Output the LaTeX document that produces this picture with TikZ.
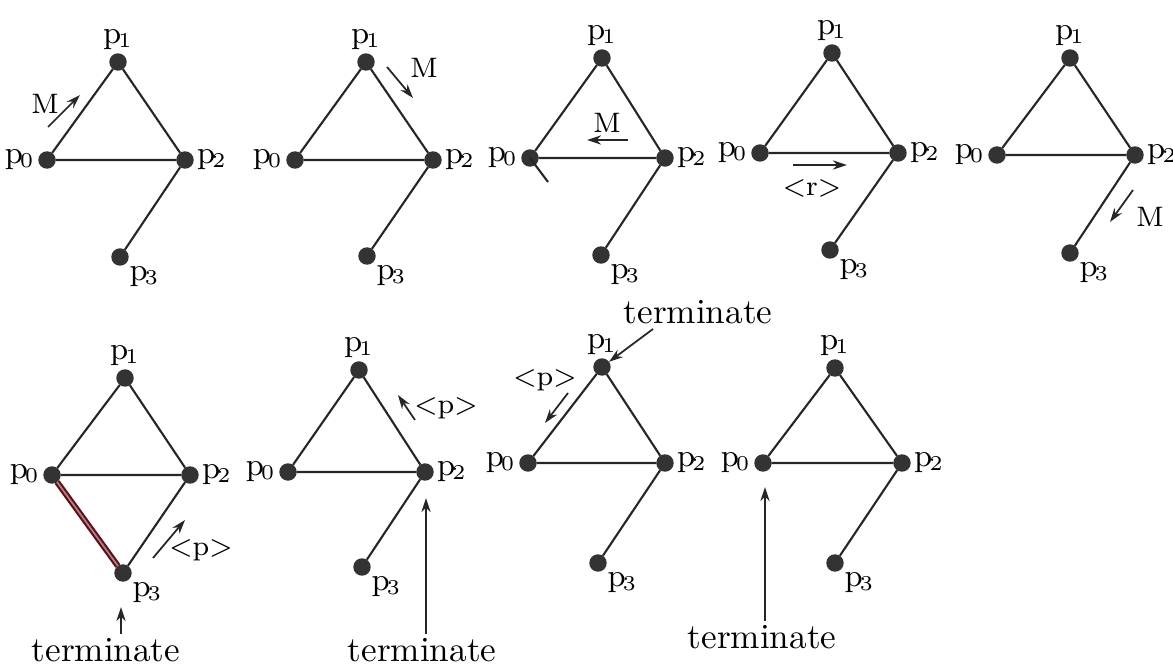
\documentclass[tikz,border=0pt]{standalone}
\usetikzlibrary{arrows.meta}
\newcommand{\pname}[1]{p\kern-0.8pt$_{#1}$}
\begin{document}
\begin{tikzpicture}[x=0.01cm,y=-0.01cm,
    site/.style={circle, fill=black!80, draw=black!80, inner sep=0pt, minimum size=0.16cm},
    link/.style={draw=black!85, line width=0.6pt},
    msg/.style={draw=black!85, line width=0.5pt, -{Stealth[length=4pt,width=2.6pt]}},
    plabel/.style={font=\small, inner sep=0.8pt},
    tag/.style={font=\footnotesize, inner sep=1pt},
    note/.style={font=\normalsize, inner sep=1pt}]
            % Define the colors
            \definecolor{trailcolor}{RGB}{90, 15, 25}

            % Fix the page size
            \useasboundingbox (0,0) rectangle (1173,664);

            % Panel 1
            \node[site, label={[plabel]above:\pname{1}}] (a1) at (118,62) {};
            \node[site, label={[plabel]left:\pname{0}}] (a0) at (47,160) {};
            \node[site, label={[plabel]right:\pname{2}}] (a2) at (185,160) {};
            \node[site, label={[plabel]below right:\pname{3}}] (a3) at (120,257) {};
            \draw[link] (a0) -- (a1) -- (a2) -- (a0);
            \draw[link] (a2) -- (a3);
            \coordinate (am1) at (48,127);
            \coordinate (am2) at (80,95);
            \draw[msg] (am1) -- (am2);
            \node[tag] (aM) at (45,104) {M};

            % Panel 2
            \node[site, label={[plabel]above:\pname{1}}] (b1) at (366,62) {};
            \node[site, label={[plabel]left:\pname{0}}] (b0) at (295,160) {};
            \node[site, label={[plabel]right:\pname{2}}] (b2) at (433,160) {};
            \node[site, label={[plabel]below right:\pname{3}}] (b3) at (367,256) {};
            \draw[link] (b0) -- (b1) -- (b2) -- (b0);
            \draw[link] (b2) -- (b3);
            \coordinate (bm1) at (387,67);
            \coordinate (bm2) at (413,98);
            \draw[msg] (bm1) -- (bm2);
            \node[tag] (bM) at (424,68) {M};

            % Panel 3
            \node[site, label={[plabel]above:\pname{1}}] (c1) at (602,58) {};
            \node[site, label={[plabel]left:\pname{0}}] (c0) at (530,158) {};
            \node[site, label={[plabel]right:\pname{2}}] (c2) at (665,158) {};
            \node[site, label={[plabel]below right:\pname{3}}] (c3) at (601,255) {};
            \draw[link] (c0) -- (c1) -- (c2) -- (c0);
            \draw[link] (c2) -- (c3);
            \coordinate (ct) at (548,182);
            \draw[link] (c0.center) -- (ct);
            \coordinate (cm1) at (628,140);
            \coordinate (cm2) at (587,140);
            \draw[msg] (cm1) -- (cm2);
            \node[tag] (cM) at (607,123) {M};

            % Panel 4
            \node[site, label={[plabel]above:\pname{1}}] (d1) at (832,53) {};
            \node[site, label={[plabel]left:\pname{0}}] (d0) at (760,153) {};
            \node[site, label={[plabel]right:\pname{2}}] (d2) at (898,153) {};
            \node[site, label={[plabel]below right:\pname{3}}] (d3) at (830,250) {};
            \draw[link] (d0) -- (d1) -- (d2) -- (d0);
            \draw[link] (d2) -- (d3);
            \coordinate (dm1) at (793,165);
            \coordinate (dm2) at (847,165);
            \draw[msg] (dm1) -- (dm2);
            \node[tag] (dR) at (812,188) {<r>};

            % Panel 5
            \node[site, label={[plabel]above:\pname{1}}] (e1) at (1070,58) {};
            \node[site, label={[plabel]left:\pname{0}}] (e0) at (997,155) {};
            \node[site, label={[plabel]right:\pname{2}}] (e2) at (1135,155) {};
            \node[site, label={[plabel]below right:\pname{3}}] (e3) at (1070,253) {};
            \draw[link] (e0) -- (e1) -- (e2) -- (e0);
            \draw[link] (e2) -- (e3);
            \coordinate (em1) at (1133,190);
            \coordinate (em2) at (1110,222);
            \draw[msg] (em1) -- (em2);
            \node[tag] (eM) at (1150,217) {M};

            % Panel 6
            \node[site, label={[plabel]above:\pname{1}}] (f1) at (125,378) {};
            \node[site, label={[plabel]left:\pname{0}}] (f0) at (52,475) {};
            \node[site, label={[plabel]right:\pname{2}}] (f2) at (190,475) {};
            \node[site, label={[plabel]below right:\pname{3}}] (f3) at (123,573) {};
            \draw[link] (f0) -- (f1) -- (f2) -- (f0);
            \draw[link] (f2) -- (f3);
            \draw[draw=trailcolor, line width=0.6pt, double=red!40!black!50, double distance=0.5pt] (f0) -- (f3);
            \coordinate (fm1) at (153,558);
            \coordinate (fm2) at (185,520);
            \draw[msg] (fm1) -- (fm2);
            \node[tag] (fP) at (201,550) {<p>};
            \node[note] (fT) at (106,650) {terminate};
            \coordinate (fe) at (121,607);
            \draw[msg] (fT.north -| fe) -- (fe);

            % Panel 7
            \node[site, label={[plabel]above:\pname{1}}] (g1) at (359,370) {};
            \node[site, label={[plabel]left:\pname{0}}] (g0) at (288,472) {};
            \node[site, label={[plabel]right:\pname{2}}] (g2) at (425,472) {};
            \node[site, label={[plabel]below right:\pname{3}}] (g3) at (362,567) {};
            \draw[link] (g0) -- (g1) -- (g2) -- (g0);
            \draw[link] (g2) -- (g3);
            \coordinate (gm1) at (415,420);
            \coordinate (gm2) at (398,395);
            \draw[msg] (gm1) -- (gm2);
            \node[tag] (gP) at (446,408) {<p>};
            \node[note] (gT) at (422,650) {terminate};
            \coordinate (ge) at (426,498);
            \draw[msg] (gT.north -| ge) -- (ge);

            % Panel 8
            \node[site, label={[plabel]above:\pname{1}}] (h1) at (602,367) {};
            \node[site, label={[plabel]left:\pname{0}}] (h0) at (528,463) {};
            \node[site, label={[plabel]right:\pname{2}}] (h2) at (665,463) {};
            \node[site, label={[plabel]below right:\pname{3}}] (h3) at (598,563) {};
            \draw[link] (h0) -- (h1) -- (h2) -- (h0);
            \draw[link] (h2) -- (h3);
            \coordinate (hm1) at (568,393);
            \coordinate (hm2) at (545,423);
            \draw[msg] (hm1) -- (hm2);
            \node[tag] (hP) at (545,380) {<p>};
            \node[note] (hT) at (698,312) {terminate};
            \coordinate (hs) at (653,329);
            \draw[msg] (hs) -- (h1);

            % Panel 9
            \node[site, label={[plabel]above:\pname{1}}] (i1) at (835,368) {};
            \node[site, label={[plabel]left:\pname{0}}] (i0) at (763,463) {};
            \node[site, label={[plabel]right:\pname{2}}] (i2) at (902,463) {};
            \node[site, label={[plabel]below right:\pname{3}}] (i3) at (835,563) {};
            \draw[link] (i0) -- (i1) -- (i2) -- (i0);
            \draw[link] (i2) -- (i3);
            \node[note] (iT) at (762,637) {terminate};
            \coordinate (ie) at (765,487);
            \draw[msg] (iT.north -| ie) -- (ie);

        \end{tikzpicture}
\end{document}
